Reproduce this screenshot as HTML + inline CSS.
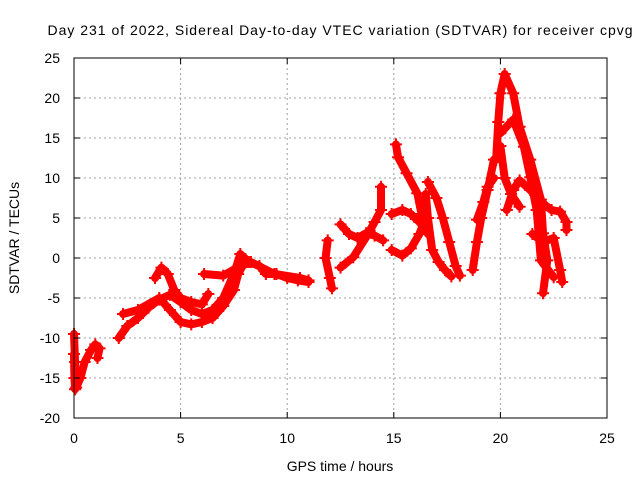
<!DOCTYPE html>
<html><head><meta charset="utf-8"><style>body{margin:0;background:#fff}svg{display:block;font-family:"Liberation Sans",sans-serif}</style></head>
<body>
<svg id="c" width="640" height="480">
<text x="340" y="35" text-anchor="middle" font-size="14" textLength="585">Day 231 of 2022, Sidereal Day-to-day VTEC variation (SDTVAR) for receiver cpvg</text>
<g id="grid"></g><g id="marks"></g><g id="axes"></g>
<text x="340" y="471" text-anchor="middle" font-size="14">GPS time / hours</text>
<text transform="translate(19,238) rotate(-90)" text-anchor="middle" font-size="14">SDTVAR / TECUs</text>
</svg>
<script>
const xTicks=[0,5,10,15,20,25];
const yTicks=[-20,-15,-10,-5,0,5,10,15,20,25];
const s1=[[0,-9.5],[0.05,-13],[0.1,-16.2],[0.3,-15],[0.5,-13],[0.8,-11.5],[1.0,-10.8],[1.2,-11.3],[1.1,-12.5]];
const s1b=[[0,-12],[0.02,-15],[0.05,-16.4]];
const s2=[[2.1,-10],[2.5,-8.5],[3,-7.5],[3.5,-6.2],[4,-5.2],[4.5,-4.6],[5,-5.5],[5.5,-6.5],[6,-7],[6.5,-6.5],[7,-5],[7.5,-2],[7.8,0.5],[8.2,-0.5],[8.7,-1],[9,-2],[9.5,-2],[10,-2.5],[10.5,-2.8],[11,-3]];
const s3=[[2.3,-7],[3,-6.5],[4,-5],[4.5,-6.5],[5,-8],[5.5,-8.3],[6,-8],[6.5,-7.5],[7,-6],[7.5,-4],[7.7,-2],[8,-0.5]];
const s4=[[3.8,-2.5],[4.1,-1.2],[4.4,-2],[4.7,-4],[5,-5],[5.5,-5.5],[6,-5.8],[6.3,-4.5]];
const s5=[[6.1,-2],[7,-2.2],[7.6,-1.3],[8.3,-0.5],[9.4,-2],[10.6,-2.5],[11,-2.8]];
const s6=[[11.9,2.2],[11.8,0],[12,-2.5],[12.1,-3.8]];
const s7=[[12.5,-1.2],[13.1,0.1],[13.7,2.6],[14.1,4.5],[14.4,6],[14.4,8.9]];
const s8=[[12.5,4.2],[12.9,3],[13.3,2.5],[13.7,3.1],[14.1,2.8],[14.5,2.2]];
const s9=[[15.1,14.2],[15.2,12.6],[15.6,10.6],[16.1,8.1],[16.3,5.5],[16.6,3]];
const s10=[[14.9,5.5],[15.4,6],[15.8,5.5],[16.2,4.5],[16.5,3.5]];
const s11=[[14.9,1],[15.4,0.3],[15.8,1.2],[16.2,3],[16.5,5]];
const s12=[[16.6,9.5],[17,7.5],[17.3,5],[17.6,2],[17.9,-1],[18.1,-2.2]];
const s13=[[16.5,8],[16.6,5],[16.8,1],[17.1,-0.5],[17.4,-1.5],[17.7,-2.3]];
const s14=[[18.7,-1.5],[18.9,2],[19.1,5],[19.4,8.5],[19.7,12.3]];
const s15=[[18.9,4.8],[19.2,7],[19.4,8.9],[19.7,10]];
const s16=[[19.8,12.3],[19.9,17],[20,20.6],[20.2,23],[20.6,20.6],[20.9,16.4],[21.4,12.3],[21.9,7.3],[22,3.1],[22.2,-0.3],[22,-4.4]];
const s17=[[20,15.6],[20.6,17.3],[21.1,13.9],[21.4,10.1],[21.7,6],[21.9,-0.3],[22.5,-2.4]];
const s18=[[20,14],[20.2,10],[20.5,8],[20.9,6.4]];
const s19=[[20.3,6],[20.6,8.5],[20.9,9.7],[21.4,8.5],[21.9,7],[22.4,6],[22.8,5.8],[23.1,4.5],[23.1,3.5]];
const s20=[[21.5,3],[22,2],[22.5,2.5],[22.8,-1.5],[22.9,-3]];
const series=[s1,s1b,s2,s3,s4,s5,s6,s7,s8,s9,s10,s11,s12,s13,s14,s15,s16,s17,s18,s19,s20];
const X0=74,X1=607,Y0=418,Y1=58;
const px=v=>X0+(v-0)/(25-0)*(X1-X0);
const py=v=>Y0-(v+20)/(45)*(Y0-Y1);
const NS="http://www.w3.org/2000/svg";
function mk(t,a,p){const e=document.createElementNS(NS,t);for(const k in a)e.setAttribute(k,a[k]);p.appendChild(e);return e;}
const grid=document.getElementById('grid'),axes=document.getElementById('axes'),marks=document.getElementById('marks');
xTicks.forEach(t=>{
 if(t>0&&t<25){const g=mk('line',{x1:px(t),x2:px(t),y1:Y1,y2:Y0,stroke:'#a0a0a0','stroke-dasharray':'2,3'},grid);
 
 }
 const tl=mk('text',{x:px(t),y:Y0+25,'text-anchor':'middle','font-size':14},axes);tl.textContent=t;
 
 
 mk('line',{x1:px(t),x2:px(t),y1:Y0,y2:Y0-6,stroke:'#000'},axes);
 mk('line',{x1:px(t),x2:px(t),y1:Y1,y2:Y1+6,stroke:'#000'},axes);
});
yTicks.forEach(t=>{
 if(t>-20&&t<25){const g=mk('line',{x1:X0,x2:X1,y1:py(t),y2:py(t),stroke:'#a0a0a0','stroke-dasharray':'2,3'},grid);
 
 }
 const tl=mk('text',{x:X0-14,y:py(t)+5,'text-anchor':'end','font-size':14},axes);tl.textContent=t;
 
 
 mk('line',{x1:X0,x2:X0+6,y1:py(t),y2:py(t),stroke:'#000'},axes);
 mk('line',{x1:X1,x2:X1-6,y1:py(t),y2:py(t),stroke:'#000'},axes);
});
const fr=mk('rect',{x:X0,y:Y1,width:X1-X0,height:Y0-Y1,fill:'none',stroke:'#000'},axes);


series.forEach(s=>{
 const pl=mk('polyline',{points:s.map(p=>px(p[0])+','+py(p[1])).join(' '),fill:'none',stroke:'#f00','stroke-width':8,'stroke-linejoin':'round','stroke-linecap':'round'},marks);
 
 
 s.forEach(p=>{const x=px(p[0]),y=py(p[1]);
  const m=mk('path',{d:`M${x-6},${y}h12M${x},${y-6}v12`,stroke:'#f00','stroke-width':2},marks);
  
  });
});
</script>
</body></html>
